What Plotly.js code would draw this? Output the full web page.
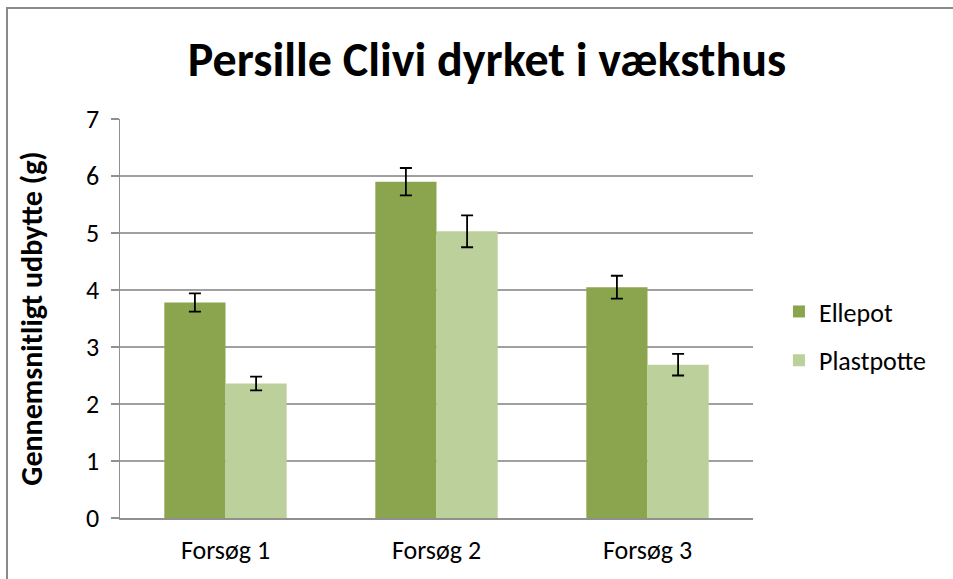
<!DOCTYPE html>
<html>
<head>
<meta charset="utf-8">
<script src="https://cdn.plot.ly/plotly-3.0.1.min.js"></script>
<style>
html,body{margin:0;padding:0;background:#fff;}
#chart{width:953px;height:579px;}
</style>
</head>
<body>
<div id="chart"></div>
<script>
const categories = ["Forsøg 1", "Forsøg 2", "Forsøg 3"];
const ellepot = [3.78, 5.90, 4.05];
const ellepotErr = [0.16, 0.24, 0.20];
const plastpotte = [2.36, 5.03, 2.69];
const plastpotteErr = [0.12, 0.28, 0.19];
const yTicks = [0, 1, 2, 3, 4, 5, 6, 7];

const FONT = "Carlito, Lato, 'Open Sans', sans-serif";

const traces = [
  {
    type: "bar", name: "Ellepot", x: categories, y: ellepot,
    marker: {color: "#8ba54e"},
    error_y: {type: "data", array: ellepotErr, visible: true, color: "#000", thickness: 1.8, width: 6},
    legendgroup: "a"
  },
  {
    type: "bar", name: "Plastpotte", x: categories, y: plastpotte,
    marker: {color: "#bbd09a"},
    error_y: {type: "data", array: plastpotteErr, visible: true, color: "#000", thickness: 1.8, width: 6},
    legendgroup: "b"
  }
];

const layout = {
  width: 953, height: 579,
  margin: {l: 120, r: 200, t: 119, b: 61},
  paper_bgcolor: "#fff", plot_bgcolor: "#fff",
  font: {family: FONT, color: "#000"},
  title: {
    text: "<b>Persille Clivi dyrket i væksthus</b>",
    font: {family: FONT, size: 48, color: "#000"},
    x: 0.511, xanchor: "center", y: 0.897, yanchor: "middle"
  },
  barmode: "group",
  bargap: 0.42,
  bargroupgap: 0,
  xaxis: {
    tickfont: {size: 26, family: FONT},
    showline: true, linecolor: "#909090", linewidth: 1.5,
    ticks: "", showgrid: false, zeroline: false,
    ticklabelstandoff: 8
  },
  yaxis: {
    range: [0, 7],
    tickvals: yTicks,
    ticktext: yTicks.map(String),
    tickfont: {size: 26, family: FONT},
    showgrid: true, gridcolor: "#a0a0a0", gridwidth: 1.5,
    showline: true, linecolor: "#909090", linewidth: 1.5,
    ticks: "outside", ticklen: 8, tickcolor: "#909090", tickwidth: 1.5,
    ticklabelstandoff: 6,
    zeroline: false,
    title: {text: "<b>Gennemsnitligt udbytte (g)</b>", font: {size: 30, family: FONT}, standoff: 34}
  },
  legend: {
    x: 1.041, xanchor: "left", y: 0.456, yanchor: "middle",
    font: {size: 26, family: FONT},
    traceorder: "grouped", tracegroupgap: 12,
    bgcolor: "rgba(0,0,0,0)"
  },
  shapes: [
    {type: "rect", xref: "paper", yref: "paper",
     x0: -0.1785, x1: 1.34, y0: -0.2, y1: 1.278,
     line: {color: "#8a8a8a", width: 2}, fillcolor: "rgba(0,0,0,0)", layer: "below"}
  ]
};

Plotly.newPlot("chart", traces, layout, {displayModeBar: false, staticPlot: true});
</script>
</body>
</html>
